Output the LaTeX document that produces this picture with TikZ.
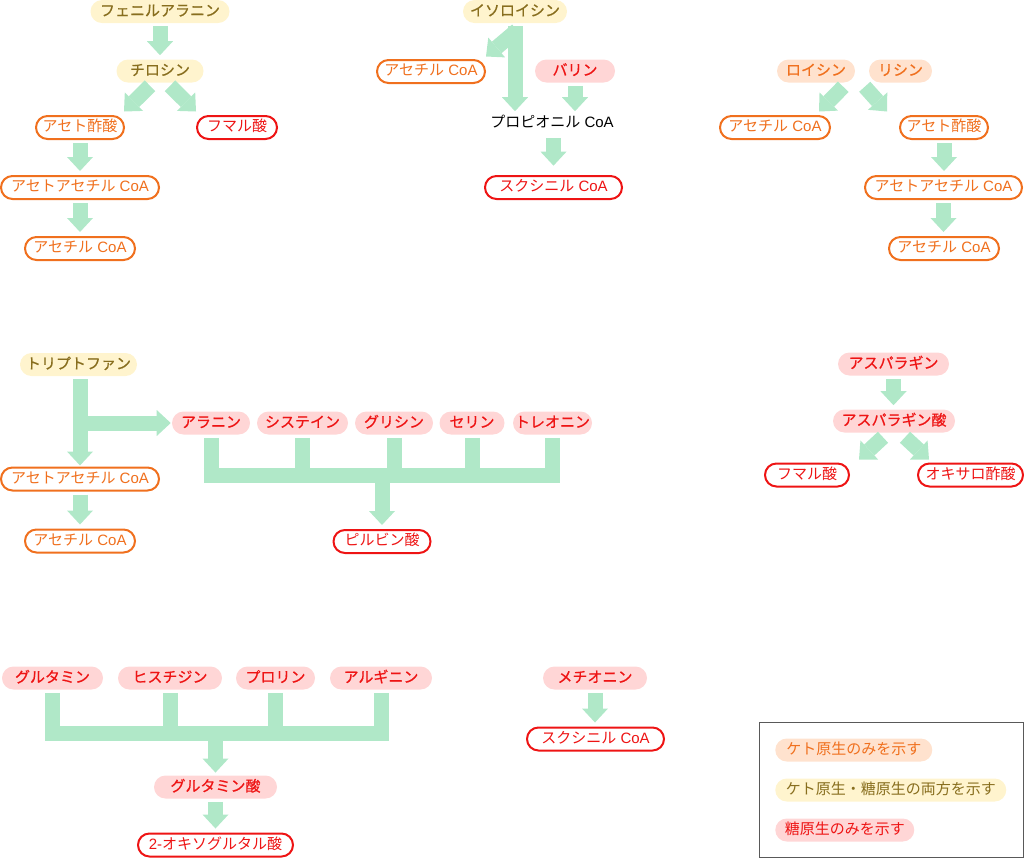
\documentclass[tikz,border=0pt]{standalone}
\usepackage{fontspec}
\setmainfont{Noto Sans CJK JP}
\newfontfamily\medfont{Noto Sans CJK JP}[FakeBold=0.7]
\newfontfamily\lat{Liberation Sans}
\usetikzlibrary{arrows.meta,calc}
\definecolor{mint}{RGB}{176,232,200}
\definecolor{ylwfill}{RGB}{255,244,206}
\definecolor{ylwtext}{RGB}{136,110,30}
\definecolor{orgfill}{RGB}{255,226,206}
\definecolor{orgtext}{RGB}{240,112,30}
\definecolor{pnkfill}{RGB}{255,214,214}
\definecolor{redtext}{RGB}{238,20,20}
\newcommand\nfont{\fontsize{11.25pt}{13pt}\selectfont}
\tikzset{
  nb/.style={rounded corners=8.6pt, minimum height=17.25pt, inner xsep=2pt, inner ysep=0pt,
             text height=8.6pt, text depth=1.9pt, font=\nfont},
  w/.style={minimum width=#1*0.75pt},
  yel/.style={nb, fill=ylwfill, text=ylwtext, font=\nfont\medfont},
  org/.style={nb, fill=orgfill, text=orgtext, font=\nfont\medfont},
  pnk/.style={nb, fill=pnkfill, text=redtext, font=\nfont\medfont},
  oout/.style={nb, draw=orgtext, line width=1.5pt, fill=white, text=orgtext},
  rout/.style={nb, draw=redtext, line width=1.5pt, fill=white, text=redtext},
  gdiag/.style={draw=mint, line width=11.25pt, line cap=butt,
                -{Triangle[length=10.5pt,width=19.5pt,line width=0pt]}},
  garrow/.style={gdiag, shorten <=2.25pt, shorten >=3pt},
  gbar/.style={draw=mint, line width=11.25pt, line cap=butt},
}
\begin{document}
\begin{tikzpicture}[x=0.75pt,y=-0.75pt]
\useasboundingbox (0,0) rectangle (1024,858);

% ---- group 1: phenylalanine / tyrosine
\node[yel,w=139] (phe) at (160,11.5) {フェニルアラニン};
\node[yel,w=87] (tyr) at (160,71) {チロシン};
\node[oout,w=88] (aceto1) at (80,127.5) {アセト酢酸};
\node[rout,w=80] (fum1) at (237,127.5) {フマル酸};
\node[oout,w=158] (aac1) at (80,187.5) {アセトアセチル{\lat\ CoA}};
\node[oout,w=110] (acoa1) at (80,248.5) {アセチル{\lat\ CoA}};
\draw[garrow] (phe) -- (tyr);
\draw[gdiag] ($(tyr.south)+(-10,3)$) -- ($(aceto1.north east)+(-1,-3.5)$);
\draw[gdiag] ($(tyr.south)+(10,3)$) -- ($(fum1.north west)+(0,-3.5)$);
\draw[garrow] (aceto1) -- (aac1);
\draw[garrow] (aac1) -- (acoa1);

% ---- group 2: isoleucine / valine
\node[yel,w=104] (ile) at (515,11.5) {イソロイシン};
\node[oout,w=108] (acoa2) at (431,71.5) {アセチル{\lat\ CoA}};
\node[pnk,w=80] (val) at (575,71) {バリン};
\node[nb] (prop) at (552,123) {プロピオニル{\lat\ CoA}};
\node[rout,w=137] (suc1) at (553.5,187.5) {スクシニル{\lat\ CoA}};
\draw[garrow, shorten >=0pt] (ile.south) -- (ile.south |- prop.north);
\draw[gdiag] ($(ile.south)+(2,7)$) -- ($(acoa2.north east)+(0,-2.5)$);
\draw[garrow, shorten >=0pt] (val.south) -- (val.south |- prop.north);
\draw[garrow, shorten >=7pt] (prop.south -| suc1.north) -- (suc1.north);

% ---- group 3: leucine / lysine
\node[org,w=78] (leu) at (816,71) {ロイシン};
\node[org,w=63] (lys) at (900.5,71) {リシン};
\node[oout,w=110] (acoa3) at (775,127.5) {アセチル{\lat\ CoA}};
\node[oout,w=88] (aceto3) at (944,127.5) {アセト酢酸};
\node[oout,w=157] (aac3) at (943.5,187.5) {アセトアセチル{\lat\ CoA}};
\node[oout,w=110] (acoa4) at (944,248.5) {アセチル{\lat\ CoA}};
\draw[gdiag] ($(leu.south east)+(-12,4)$) -- ($(acoa3.north east)+(-12,-3.5)$);
\draw[gdiag] ($(lys.south west)+(-4,4)$) -- ($(aceto3.north west)+(-12,-3.5)$);
\draw[garrow] (aceto3.south) -- (aceto3.south |- aac3.north);
\draw[garrow] (aac3.south) -- (aac3.south |- acoa4.north);

% ---- group 4: tryptophan and pyruvate family
\node[yel,w=117] (trp) at (78.5,364.5) {トリプトファン};
\node[oout,w=158] (aac5) at (80,479) {アセトアセチル{\lat\ CoA}};
\node[oout,w=110] (acoa5) at (80,541) {アセチル{\lat\ CoA}};
\node[pnk,w=78] (ala) at (211,423) {アラニン};
\node[pnk,w=91] (cys) at (302.5,423) {システイン};
\node[pnk,w=78] (gly) at (394,423) {グリシン};
\node[pnk,w=65] (ser) at (472,423) {セリン};
\node[pnk,w=79,inner xsep=1pt] (thr) at (552.5,423) {トレオニン};
\node[rout,w=97] (pyr) at (382,541.5) {ピルビン酸};
\draw[garrow, shorten >=0.75pt] (trp.south -| aac5.north) -- (aac5.north);
\draw[garrow, shorten <=0pt, shorten >=0.75pt] (aac5.north |- ala.west) -- (ala.west);
\draw[garrow] (aac5) -- (acoa5);
\coordinate (cb1) at (382,475.5);
\coordinate (cb1b) at (382,483);
\foreach \n in {ala,cys,gly,ser,thr}
  \draw[gbar, shorten <=2.25pt] (\n.south) -- (\n.south |- cb1b);
\draw[gbar] ($(ala.south |- cb1)+(-7.5,0)$) -- ($(thr.south |- cb1)+(7.5,0)$);
\draw[garrow, shorten <=0pt] (pyr.north |- cb1) -- (pyr.north);

% ---- group 5: asparagine
\node[pnk,w=111] (asn) at (893.5,364) {アスパラギン};
\node[pnk,w=122] (asp) at (894,421) {アスパラギン酸};
\node[rout,w=84] (fum2) at (807,475) {フマル酸};
\node[rout,w=105] (oaa) at (970.5,475) {オキサロ酢酸};
\draw[garrow] (asn.south) -- (asn.south |- asp.north);
\draw[gdiag] ($(asp.south)+(-11,4.5)$) -- ($(fum2.north east)+(9,-3)$);
\draw[gdiag] ($(asp.south)+(11,4.5)$) -- ($(oaa.north west)+(12,-3)$);

% ---- group 6: glutamate family
\node[pnk,w=101] (gln) at (52.5,678) {グルタミン};
\node[pnk,w=104] (his) at (170,678) {ヒスチジン};
\node[pnk,w=79] (pro) at (275.5,678) {プロリン};
\node[pnk,w=102] (arg) at (381,678) {アルギニン};
\node[pnk,w=123] (glu) at (215.5,787) {グルタミン酸};
\node[rout,w=155] (oxo) at (215.5,845) {{\lat 2-}オキソグルタル酸};
\coordinate (cb2) at (215.5,733);
\coordinate (cb2b) at (215.5,740);
\foreach \n in {gln,his,pro,arg}
  \draw[gbar, shorten <=2.25pt] (\n.south) -- (\n.south |- cb2b);
\draw[gbar] ($(gln.south |- cb2)+(-7.5,0)$) -- ($(arg.south |- cb2)+(7.5,0)$);
\draw[garrow, shorten <=0pt, shorten >=2pt] (glu.north |- cb2) -- (glu.north);
\draw[garrow] (glu) -- (oxo);

% ---- group 7: methionine
\node[pnk,w=104] (met) at (595,678) {メチオニン};
\node[rout,w=137] (suc2) at (595.5,739) {スクシニル{\lat\ CoA}};
\draw[garrow] (met.south) -- (met.south |- suc2.north);

% ---- legend
\draw[black!65, line width=0.75pt] (759.5,722.5) rectangle (1023,857);
\node[nb, fill=orgfill, text=orgtext, w=157, anchor=west] (leg1) at (775,750) {ケト原生のみを示す};
\node[nb, fill=ylwfill, text=ylwtext, w=231, anchor=west] (leg2) at (775,790) {ケト原生・糖原生の両方を示す};
\node[nb, fill=pnkfill, text=redtext, w=139, anchor=west] (leg3) at (775,830) {糖原生のみを示す};
\end{tikzpicture}
\end{document}
